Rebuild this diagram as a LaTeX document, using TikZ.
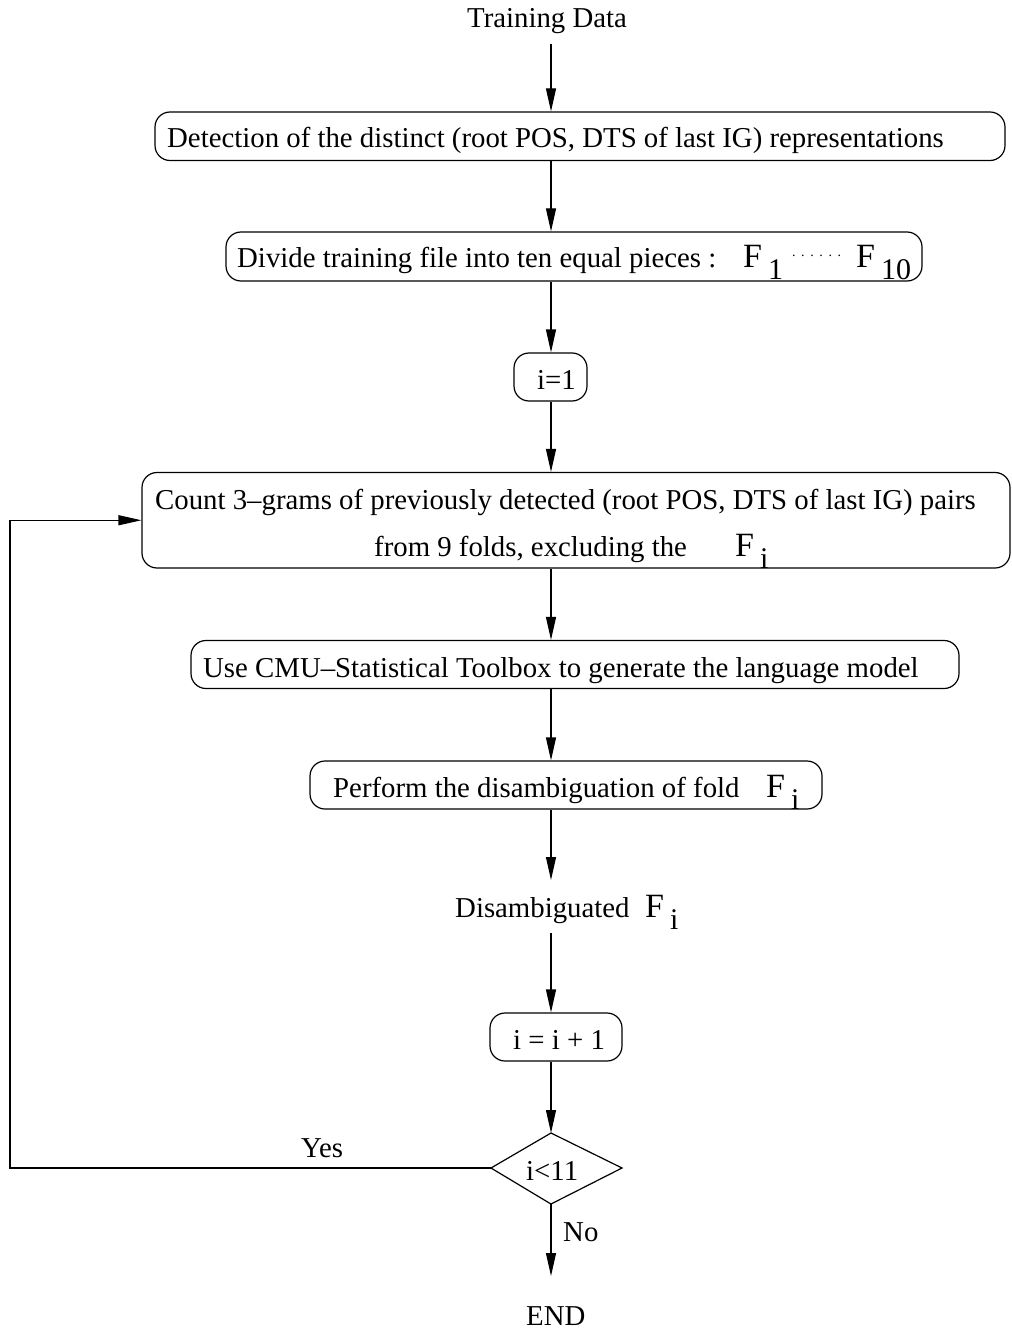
\documentclass[tikz,border=0pt]{standalone}
\usepackage{fontspec}
\setmainfont{Liberation Serif}
\usetikzlibrary{arrows.meta}
\newcommand\bigF{\fontsize{34}{34}\selectfont}
\newcommand\subF{\fontsize{30}{30}\selectfont}
\newcommand\FS[1]{{\bigF F}\kern6pt\raisebox{-12pt}{\subF #1}}
\tikzset{
  box/.style={draw, rounded corners=15pt, line width=1.2pt, inner sep=0pt},
  arr/.style={-{Triangle[length=23pt,width=10pt]}, line width=1.2pt},
  ln/.style={line width=1.2pt},
  txt/.style={inner sep=0pt, anchor=base west, font=\fontsize{28.8}{28.8}\selectfont},
}
\begin{document}
\begin{tikzpicture}[x=1pt,y=-1pt]
\useasboundingbox (0,0) rectangle (1011,1329);
\coordinate (ax) at (551,0);
% boxes
\node[box, minimum width=850pt, minimum height=48.5pt] (b1) at (580,136.25) {};
\node[box, minimum width=696pt, minimum height=49pt] (b2) at (574,256.5) {};
\node[box, minimum width=73pt, minimum height=48pt] (b3) at (550.5,377) {};
\node[box, minimum width=868pt, minimum height=95.5pt] (b4) at (576,520.25) {};
\node[box, minimum width=768pt, minimum height=48pt] (b5) at (575,664.5) {};
\node[box, minimum width=512pt, minimum height=48pt] (b6) at (566,785) {};
\node[box, minimum width=132pt, minimum height=48pt] (b7) at (556,1037) {};
% diamond
\coordinate (dl) at (491,1168);
\coordinate (dt) at (551,1133);
\coordinate (dr) at (622,1168);
\coordinate (db) at (551,1204);
\draw[ln, line join=miter] (dl) -- (dt) -- (dr) -- (db) -- cycle;
% texts
\node[txt] (td) at (467,28) {Training Data};
\node[txt] (t1) at (167,148) {Detection of the distinct (root POS, DTS of last IG) representations};
\node[txt] (t2) at (237,268) {\makebox[506pt][l]{Divide training file into ten equal pieces :}\FS{1}\hspace{9pt}\raisebox{11pt}{\fontsize{14}{14}\selectfont .\hspace{5.6pt}.\hspace{5.6pt}.\hspace{5.6pt}.\hspace{5.6pt}.\hspace{5.6pt}.}\hspace{15pt}\FS{10}};
\node[txt] (t3) at (537,389) {i=1};
\node[txt] (t4a) at (155,509) {Count 3\textendash grams of previously detected (root POS, DTS of last IG) pairs};
\node[txt] (t4b) at (374,556) {\makebox[361pt][l]{from 9 folds, excluding the}\FS{i}};
\node[txt] (t5) at (203,677) {Use CMU\textendash Statistical Toolbox to generate the language model};
\node[txt] (t6) at (333,797) {\makebox[433pt][l]{Perform the disambiguation of fold}\FS{i}};
\node[txt] (t7) at (455,917) {\makebox[190pt][l]{Disambiguated}\FS{i}};
\node[txt] (t8) at (513,1049) {i = i + 1};
\node[txt] (t9) at (526,1180) {i<11};
\node[txt] (yes) at (301,1157) {Yes};
\node[txt] (no) at (563,1241) {No};
\node[txt] (endn) at (526,1325) {END};
\coordinate (lc) at (10,1168);
\coordinate (endtip) at (551,1276);
\coordinate (dtip) at (551,880);
\coordinate (dstart) at (551,933);
% connectors
\draw[arr] ([yshift=-10pt]td.south -| ax) -- (b1.north -| ax);
\draw[arr] (b1.south -| ax) -- (b2.north -| ax);
\draw[arr] (b2.south -| ax) -- (b3.north -| ax);
\draw[arr] (b3.south -| ax) -- (b4.north -| ax);
\draw[arr] (b4.south -| ax) -- (b5.north -| ax);
\draw[arr] (b5.south -| ax) -- (b6.north -| ax);
\draw[arr] (b6.south -| ax) -- (dtip);
\draw[arr] (dstart) -- (b7.north -| ax);
\draw[arr] (b7.south -| ax) -- (dt);
\draw[arr] (db) -- (endtip);
\draw[arr] (dl) -- (lc) |- (b4.west);
\end{tikzpicture}
\end{document}
